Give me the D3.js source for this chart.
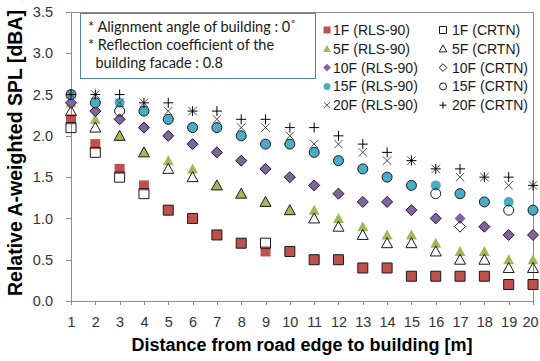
<!DOCTYPE html>
<html>
<head>
<meta charset="utf-8">
<script src="https://cdn.jsdelivr.net/npm/d3@7"></script>
<style>
  html, body { margin: 0; padding: 0; background: #fff; }
  svg { display: block; }
</style>
</head>
<body>
<svg id="chart" width="540" height="361"></svg>
<script>
// Distances from the road edge [m]
const distances = d3.range(1, 21);

// Relative A-weighted SPL [dBA] per floor and prediction model
const rls1F  = [2.2,1.9,1.6,1.4,1.1,1.0,0.8,0.7,0.6,0.6,0.5,0.5,0.4,0.4,0.3,0.3,0.3,0.3,0.2,0.2];
const crtn1F = [2.1,1.8,1.5,1.3,1.1,1.0,0.8,0.7,0.7,0.6,0.5,0.5,0.4,0.4,0.3,0.3,0.3,0.3,0.2,0.2];
const rls5F  = [2.4,2.2,2.0,1.8,1.7,1.6,1.4,1.3,1.2,1.1,1.1,1.0,0.9,0.8,0.8,0.7,0.6,0.6,0.5,0.5];
const crtn5F = [2.3,2.1,2.0,1.8,1.6,1.5,1.4,1.3,1.2,1.1,1.0,0.9,0.8,0.7,0.7,0.6,0.5,0.5,0.4,0.4];
const rls10F  = [2.4,2.3,2.2,2.1,2.0,1.9,1.8,1.7,1.6,1.5,1.4,1.3,1.2,1.2,1.1,1.0,1.0,0.9,0.8,0.8];
const crtn10F = [2.4,2.3,2.2,2.1,2.0,1.9,1.8,1.7,1.6,1.5,1.4,1.3,1.2,1.2,1.1,1.0,0.9,0.9,0.8,0.8];
const rls15F  = [2.5,2.4,2.4,2.3,2.2,2.1,2.1,2.0,1.9,1.9,1.8,1.7,1.6,1.5,1.4,1.4,1.3,1.2,1.2,1.1];
const crtn15F = [2.5,2.4,2.3,2.3,2.2,2.1,2.1,2.0,1.9,1.9,1.8,1.7,1.6,1.5,1.4,1.3,1.3,1.2,1.1,1.1];
const rls20F  = [2.5,2.5,2.4,2.4,2.3,2.3,2.2,2.1,2.1,2.0,1.9,1.9,1.8,1.7,1.7,1.6,1.5,1.5,1.4,1.4];
const crtn20F = [2.5,2.5,2.5,2.4,2.4,2.3,2.3,2.2,2.2,2.1,2.1,2.0,1.9,1.8,1.7,1.6,1.6,1.5,1.5,1.4];

const yTicks = [0, 0.5, 1.0, 1.5, 2.0, 2.5, 3.0, 3.5];
const xTicks = d3.range(1, 21);

const noteLines = [
  "* Alignment angle of building : 0\u02DA",
  "* Reflection coefficient of the",
  "  building facade : 0.8"
];

// Marker outlines, centred on (0,0), for a nominal size of 10px
const shapes = {
  square:   s => `M${-s/2},${-s/2}H${s/2}V${s/2}H${-s/2}Z`,
  triangle: s => `M0,${-s*0.55}L${s*0.55},${s*0.45}L${-s*0.55},${s*0.45}Z`,
  diamond:  s => `M0,${-s*0.55}L${s*0.55},0L0,${s*0.55}L${-s*0.55},0Z`,
  circle:   s => { const r = s/2; return `M${r},0A${r},${r} 0 1,1 ${-r},0A${r},${r} 0 1,1 ${r},0Z`; },
  cross:    s => `M${-s*0.42},${-s*0.42}L${s*0.42},${s*0.42}M${-s*0.42},${s*0.42}L${s*0.42},${-s*0.42}`,
  plus:     s => `M${-s/2},0H${s/2}M0,${-s/2}V${s/2}`
};

// Series in drawing order; RLS-90 as filled marks, CRTN as outlines
const series = [
  { name: "1F (RLS-90)",  values: rls1F,   shape: "square",   fill: "#C0504D", stroke: "none" },
  { name: "1F (CRTN)",    values: crtn1F,  shape: "square",   fill: "none",    stroke: "#1a1a1a" },
  { name: "5F (RLS-90)",  values: rls5F,   shape: "triangle", fill: "#9BBB59", stroke: "none" },
  { name: "5F (CRTN)",    values: crtn5F,  shape: "triangle", fill: "none",    stroke: "#1a1a1a" },
  { name: "10F (RLS-90)", values: rls10F,  shape: "diamond",  fill: "#8064A2", stroke: "none" },
  { name: "10F (CRTN)",   values: crtn10F, shape: "diamond",  fill: "none",    stroke: "#1a1a1a" },
  { name: "15F (RLS-90)", values: rls15F,  shape: "circle",   fill: "#4BACC6", stroke: "none" },
  { name: "15F (CRTN)",   values: crtn15F, shape: "circle",   fill: "none",    stroke: "#1a1a1a" },
  { name: "20F (RLS-90)", values: rls20F,  shape: "cross",    fill: "none",    stroke: "#4a4a4a" },
  { name: "20F (CRTN)",   values: crtn20F, shape: "plus",     fill: "none",    stroke: "#000" }
];

const svg = d3.select("#chart");
const plot = { left: 71, right: 533, top: 12, bottom: 301 };

const x = d3.scaleLinear().domain([1, 20]).range([plot.left, plot.right]);
const y = d3.scaleLinear().domain([0, 3.5]).range([plot.bottom, plot.top]);

// Plot frame
svg.append("rect")
  .attr("x", plot.left).attr("y", plot.top)
  .attr("width", plot.right - plot.left).attr("height", plot.bottom - plot.top)
  .attr("fill", "#fff").attr("stroke", "#8c8c8c").attr("stroke-width", 1)
  .attr("shape-rendering", "crispEdges");

// Axes
const yAxis = svg.append("g")
  .attr("transform", `translate(${plot.left},0)`)
  .call(d3.axisLeft(y).tickValues(yTicks).tickFormat(d3.format(".1f")).tickSize(5).tickSizeOuter(0).tickPadding(13));
const xAxis = svg.append("g")
  .attr("transform", `translate(0,${plot.bottom})`)
  .call(d3.axisBottom(x).tickValues(xTicks).tickFormat(d3.format("d")).tickSize(4).tickSizeOuter(0).tickPadding(12));

[yAxis, xAxis].forEach(g => {
  g.select(".domain").attr("stroke", "#8c8c8c").attr("shape-rendering", "crispEdges");
  g.selectAll(".tick line").attr("stroke", "#8c8c8c").attr("shape-rendering", "crispEdges");
  g.selectAll(".tick text")
    .attr("fill", "#333")
    .style("font-family", "'Liberation Sans', Arial, sans-serif")
    .style("font-size", "14.5px");
});
// keep the last distance label inside the canvas edge
xAxis.selectAll(".tick text").filter(d => d === 20).attr("dx", -3);

// Axis titles
svg.append("text")
  .attr("x", 302).attr("y", 351)
  .attr("text-anchor", "middle")
  .style("font-family", "'Liberation Sans', Arial, sans-serif")
  .style("font-size", "18px").style("font-weight", "bold")
  .attr("fill", "#000")
  .text("Distance from road edge to building [m]");

svg.append("text")
  .attr("transform", "translate(22,153) rotate(-90)")
  .attr("text-anchor", "middle")
  .style("font-family", "'Liberation Sans', Arial, sans-serif")
  .style("font-size", "19.5px").style("font-weight", "bold")
  .attr("fill", "#000")
  .text("Relative A-weighted SPL [dBA]");

// Data marks
const marks = svg.append("g");
series.forEach(s => {
  marks.append("g")
    .selectAll("path")
    .data(s.values.map((v, i) => ({ d: distances[i], v })))
    .join("path")
    .attr("transform", p => `translate(${x(p.d)},${y(p.v)})`)
    .attr("d", shapes[s.shape](10))
    .attr("fill", s.fill)
    .attr("stroke", s.stroke)
    .attr("stroke-width", 1);
});

// Note box
const note = svg.append("g");
note.append("rect")
  .attr("x", 80.5).attr("y", 13.5).attr("width", 235).attr("height", 65)
  .attr("fill", "#fff").attr("stroke", "#4F81BD").attr("stroke-width", 1);
note.selectAll("text")
  .data(noteLines)
  .join("text")
  .attr("x", 88)
  .attr("y", (d, i) => 32 + i * 18)
  .attr("xml:space", "preserve")
  .style("white-space", "pre")
  .style("font-family", "Lato, 'Open Sans', sans-serif")
  .style("font-size", "14.5px")
  .attr("fill", "#1a1a1a")
  .text(d => d);

// Legend: two columns, RLS-90 left and CRTN right
const legend = svg.append("g");
const colX = [327, 443];
const rowY0 = 30, rowStep = 18.8;
series.forEach((s, i) => {
  const col = i % 2, row = Math.floor(i / 2);
  const g = legend.append("g")
    .attr("transform", `translate(${colX[col]},${rowY0 + row * rowStep})`);
  g.append("path")
    .attr("d", shapes[s.shape](7))
    .attr("fill", s.fill)
    .attr("stroke", s.stroke === "none" ? "none" : s.stroke)
    .attr("stroke-width", 1);
  g.append("text")
    .attr("x", col === 0 ? 6 : 9)
    .attr("y", 5)
    .style("font-family", "'Liberation Sans', Arial, sans-serif")
    .style("font-size", "14px")
    .attr("fill", "#1a1a1a")
    .text(s.name);
});
</script>
</body>
</html>
